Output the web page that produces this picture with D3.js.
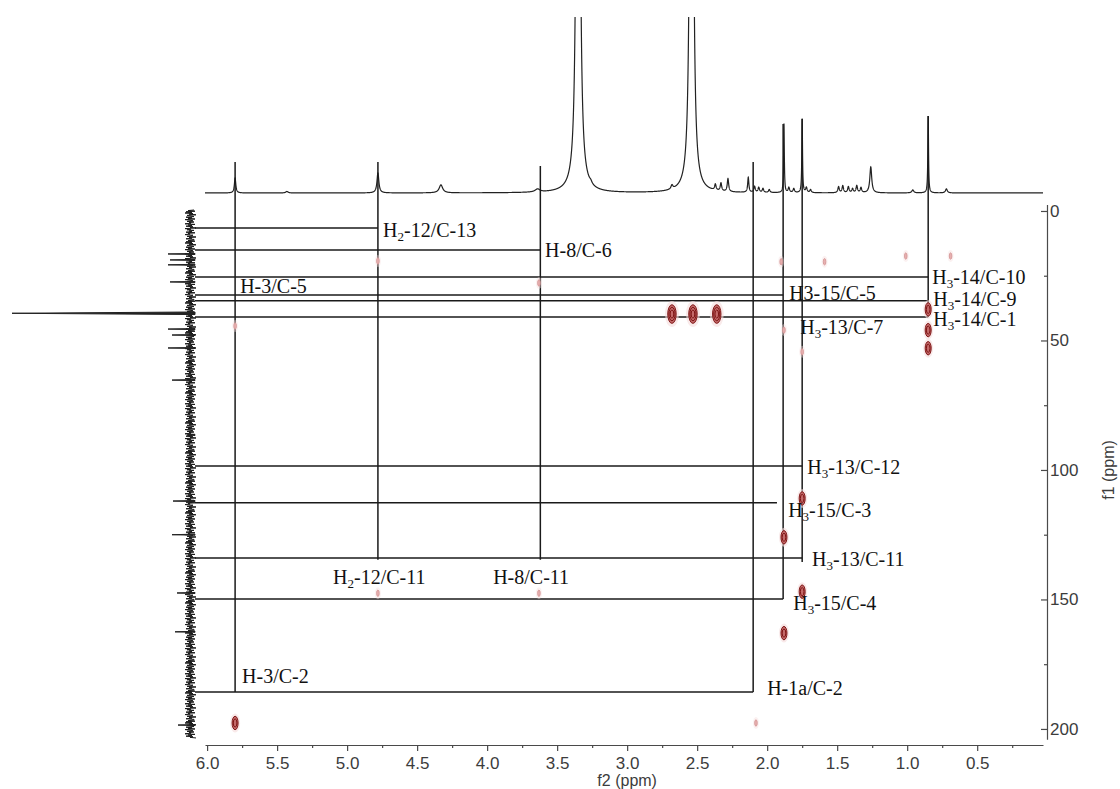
<!DOCTYPE html>
<html>
<head>
<meta charset="utf-8">
<script src="https://cdn.jsdelivr.net/npm/d3@7/dist/d3.min.js"></script>
<style>
body { margin: 0; background: #fff; }
svg { display: block; }
.axis path, .axis line { stroke: #4a4a4a; stroke-width: 1.2; }
.axis text { font-family: "Liberation Sans", Arial, sans-serif; font-size: 17px; fill: #3c3c3c; }
.lbl { font-family: "Liberation Serif", "Times New Roman", serif; font-size: 20px; fill: #111; }
.ann { stroke: #1a1a1a; stroke-width: 1.5; fill: none; }
</style>
</head>
<body>
<div class="chart"></div>
<script>
// 1H projection (top): shift ppm, height, half width ppm
var hPeakShift = [5.80, 5.43, 4.78, 4.33, 3.64, 3.35, 3.26, 2.68, 2.54, 2.37, 2.33, 2.28, 2.135, 2.09, 2.06, 2.03, 1.985,
  1.88, 1.845, 1.81, 1.75, 1.72, 1.69, 1.49, 1.46, 1.42, 1.39, 1.36, 1.33, 1.26, 0.96, 0.85, 0.72];
var hPeakHeight = [15, 1.5, 20, 8, 3, 1500, 2, 4, 1500, 6, 8, 13, 15, 6, 5, 4, 3,
  69, 5, 4, 74, 5, 3, 6, 7, 6, 4, 7, 5, 26, 3, 77, 4];
var hPeakWidth = [0.006, 0.01, 0.008, 0.015, 0.02, 0.008, 0.01, 0.008, 0.0075, 0.006, 0.006, 0.006, 0.005, 0.006, 0.006, 0.006, 0.006,
  0.003, 0.006, 0.006, 0.003, 0.006, 0.006, 0.006, 0.006, 0.006, 0.006, 0.006, 0.006, 0.008, 0.008, 0.003, 0.008];

// 13C projection (left): shift ppm, height
var cPeakShift = [16.6, 18.9, 20.8, 27.4, 39.5, 45.6, 47.9, 52.9, 65.3, 86.5, 112, 125, 147.5, 162.5, 198.5];
var cPeakHeight = [27, 25, 27, 25, 183, 27, 23, 27, 23, 8, 22, 23, 18, 20, 17];
var cNoise = [3, 9, 2, 11, 5, 12, 4, 8, 1, 10, 6, 3, 11, 5, 9, 2, 12, 7, 4, 10, 3, 8, 6, 12, 2, 9, 5, 11,
  4, 7, 1, 12, 6, 10, 3, 8, 5, 11, 2, 9, 7, 12, 4, 6, 10, 1, 8, 5, 11, 3];

// HMBC cross peaks: dH, dC, level (1 faint .. 3 strong)
var xpH = [5.80, 4.78, 3.63, 2.68, 2.53, 2.36, 1.90, 1.59, 1.01, 0.69, 1.88, 1.75, 0.85, 0.85, 0.85,
  1.75, 1.88, 1.75, 1.88, 4.78, 3.63, 5.80, 2.08];
var xpC = [44.4, 19.3, 27.8, 39.8, 39.8, 39.8, 19.6, 19.6, 17.4, 17.4, 46, 54.4, 38, 46, 53,
  111, 126, 147, 163, 147.6, 147.6, 197.7, 197.7];
var xpLevel = [1, 1, 1, 3, 3, 3, 1, 1, 1, 1, 1, 1, 2, 2, 2,
  2, 2, 2, 2, 1, 1, 2, 1];

// correlation guide lines
var vLineH = [5.80, 4.78, 3.62, 2.10, 1.886, 1.75, 0.85];
var vLineTop = [31, 31, 27, 31, 69, 74, 77];
var vLineBottom = [185.7, 134.7, 134.7, 185.7, 149.8, 135.5, 40.9];
var hLineC = [6.6, 15.1, 25.5, 32.4, 34.7, 40.9, 98.5, 112.7, 134.0, 149.8, 185.7];
var hLineEnd = [4.78, 3.62, 0.85, 1.886, 0.85, 0.85, 1.75, 1.93, 1.75, 1.886, 2.10];

// labels, {n} = subscript
var lblText = ['H{2}-12/C-13', 'H-8/C-6', 'H-3/C-5', 'H{3}-14/C-10', 'H3-15/C-5', 'H{3}-14/C-9', 'H{3}-14/C-1', 'H{3}-13/C-7',
  'H{3}-13/C-12', 'H{3}-15/C-3', 'H{3}-13/C-11', 'H{3}-15/C-4', 'H-1a/C-2', 'H-3/C-2', 'H{2}-12/C-11', 'H-8/C-11'];
var lblH = [4.743, 3.586, 5.764, 0.821, 1.843, 0.814, 0.814, 1.764,
  1.714, 1.85, 1.679, 1.814, 2.0, 5.75, 5.1, 3.957];
var lblC = [10.0, 17.8, 31.7, 28.2, 34.4, 36.7, 44.4, 47.5,
  101.5, 118.1, 137.1, 154.1, 186.9, 182.2, 144, 144];

var xTicks = [6.0, 5.5, 5.0, 4.5, 4.0, 3.5, 3.0, 2.5, 2.0, 1.5, 1.0, 0.5];
var xMinor = [5.75, 5.25, 4.75, 4.25, 3.75, 3.25, 2.75, 2.25, 1.75, 1.25, 0.75, 0.25];
var yTicks = [0, 50, 100, 150, 200];
var yMinor = [25, 75, 125, 175];

var svgWidth = 1120;
var svgHeight = 789;

var svg = d3.select('.chart')
  .append('svg')
  .attr('width', svgWidth)
  .attr('height', svgHeight);

var x = d3.scaleLinear().domain([6.015, 0.03]).range([205, 1043]);
var y = d3.scaleLinear().domain([-2.5, 204]).range([204.5, 739.3]);
var hInt = d3.scaleLinear().domain([0, 176]).range([193, 17]);
var cInt = d3.scaleLinear().domain([0, 183]).range([195, 12]);

// top 1H trace
svg.append('clipPath').attr('id', 'topclip')
  .append('rect').attr('x', 0).attr('y', 17).attr('width', svgWidth).attr('height', 200);

var hPts = [];
for (var i = 0; i <= 11970; i++) {
  var p = 6.015 - i * 0.0005;
  var s = 0;
  for (var k = 0; k < hPeakShift.length; k++) {
    var d = (p - hPeakShift[k]) / hPeakWidth[k];
    s += hPeakHeight[k] / (1 + d * d);
  }
  hPts.push([p, s]);
}

svg.append('path')
  .datum(hPts)
  .attr('clip-path', 'url(#topclip)')
  .attr('fill', 'none')
  .attr('stroke', '#222')
  .attr('stroke-width', 1.2)
  .attr('d', d3.line()
    .x(function(d) { return x(d[0]); })
    .y(function(d) { return hInt(d[1]); }));

// left 13C trace: noise band + spikes
var nPts = [];
var yy = y.invert(210);
var step = 0.6 / 2.59;
var n = 0;
while (yy < 203.5) {
  nPts.push([yy, cNoise[n % cNoise.length]]);
  yy += step;
  n++;
}
svg.append('path')
  .datum(nPts)
  .attr('fill', 'none')
  .attr('stroke', '#1a1a1a')
  .attr('stroke-width', 1)
  .attr('d', d3.line()
    .x(function(d) { return cInt(d[1] - 2); })
    .y(function(d) { return y(d[0]); }));

svg.selectAll('.cpk')
  .data(cPeakShift)
  .enter()
  .append('path')
  .attr('class', 'cpk')
  .attr('fill', '#222')
  .attr('stroke', '#222')
  .attr('stroke-width', 1)
  .attr('d', function(d, i) {
    var w = cPeakHeight[i] > 100 ? 0.5 : 0.2;
    return 'M' + cInt(0) + ',' + y(d - w) + 'L' + cInt(cPeakHeight[i]) + ',' + y(d) + 'L' + cInt(0) + ',' + y(d + w) + 'Z';
  });

// guide lines
svg.selectAll('.vl')
  .data(vLineH)
  .enter()
  .append('line')
  .attr('class', 'ann')
  .attr('x1', function(d) { return x(d); })
  .attr('x2', function(d) { return x(d); })
  .attr('y1', function(d, i) { return hInt(vLineTop[i]); })
  .attr('y2', function(d, i) { return y(vLineBottom[i]); });

svg.selectAll('.hl')
  .data(hLineC)
  .enter()
  .append('line')
  .attr('class', 'ann')
  .attr('x1', cInt(0))
  .attr('x2', function(d, i) { return x(hLineEnd[i]); })
  .attr('y1', function(d) { return y(d); })
  .attr('y2', function(d) { return y(d); });

// cross peaks
var xp = svg.selectAll('.xp')
  .data(xpH)
  .enter()
  .append('g')
  .attr('transform', function(d, i) { return 'translate(' + x(d) + ',' + y(xpC[i]) + ')'; });

xp.append('ellipse')
  .attr('rx', function(d, i) { return 1 + xpLevel[i] * 2; })
  .attr('ry', function(d, i) { return 2.5 + xpLevel[i] * 3.5; })
  .attr('fill', '#f5dcdc')
  .attr('opacity', function(d, i) { return xpLevel[i] === 1 ? 0.4 : 0.6; });

xp.each(function(d, i) {
  var g = d3.select(this);
  var lvMax = xpLevel[i];
  for (var lv = lvMax; lv >= 1; lv--) {
    g.append('ellipse')
      .attr('rx', lvMax === 1 ? 1.3 : 0.6 + lv * 1.2)
      .attr('ry', lvMax === 1 ? 3.2 : 1.5 + lv * 2.6)
      .attr('fill', lv === lvMax ? (lvMax === 1 ? '#e7b0b0' : '#c46a6a') : 'none')
      .attr('stroke', lvMax === 1 ? '#d39494' : '#7e1515')
      .attr('stroke-width', lvMax === 1 ? 0.8 : 1);
  }
});

// labels
svg.selectAll('.lbl')
  .data(lblText)
  .enter()
  .append('text')
  .attr('class', 'lbl')
  .attr('x', function(d, i) { return x(lblH[i]); })
  .attr('y', function(d, i) { return y(lblC[i]); })
  .each(function(d) {
    var t = d3.select(this);
    var m = d.match(/^(.*?)\{(.*?)\}(.*)$/);
    if (m) {
      t.append('tspan').text(m[1]);
      t.append('tspan').attr('font-size', '13px').attr('dy', 4).text(m[2]);
      t.append('tspan').attr('dy', -4).text(m[3]);
    } else {
      t.text(d);
    }
  });

// axes
var bottom = d3.axisBottom(x).tickValues(xTicks).tickSize(6).tickSizeOuter(0)
  .tickFormat(d3.format('.1f')).tickPadding(6);
svg.append('g')
  .attr('class', 'axis')
  .attr('transform', 'translate(0,745)')
  .call(bottom);
svg.append('g')
  .attr('class', 'axis')
  .attr('transform', 'translate(0,745)')
  .call(d3.axisBottom(x).tickValues(xMinor).tickSize(3).tickSizeOuter(0).tickFormat(''))
  .select('.domain').remove();

var right = d3.axisRight(y).tickValues(yTicks).tickSize(-6).tickSizeOuter(0).tickPadding(3);
svg.append('g')
  .attr('class', 'axis')
  .attr('transform', 'translate(1047,0)')
  .call(right);
svg.append('g')
  .attr('class', 'axis')
  .attr('transform', 'translate(1047,0)')
  .call(d3.axisRight(y).tickValues(yMinor).tickSize(-3).tickSizeOuter(0).tickFormat(''))
  .select('.domain').remove();

svg.append('text')
  .attr('x', x(3.0))
  .attr('y', 786)
  .attr('text-anchor', 'middle')
  .style('font-family', '"Liberation Sans", Arial, sans-serif')
  .style('font-size', '16px')
  .style('fill', '#3c3c3c')
  .text('f2 (ppm)');

svg.append('text')
  .attr('transform', 'translate(1114,470) rotate(-90)')
  .attr('text-anchor', 'middle')
  .style('font-family', '"Liberation Sans", Arial, sans-serif')
  .style('font-size', '16px')
  .style('fill', '#3c3c3c')
  .text('f1 (ppm)');
</script>
</body>
</html>
